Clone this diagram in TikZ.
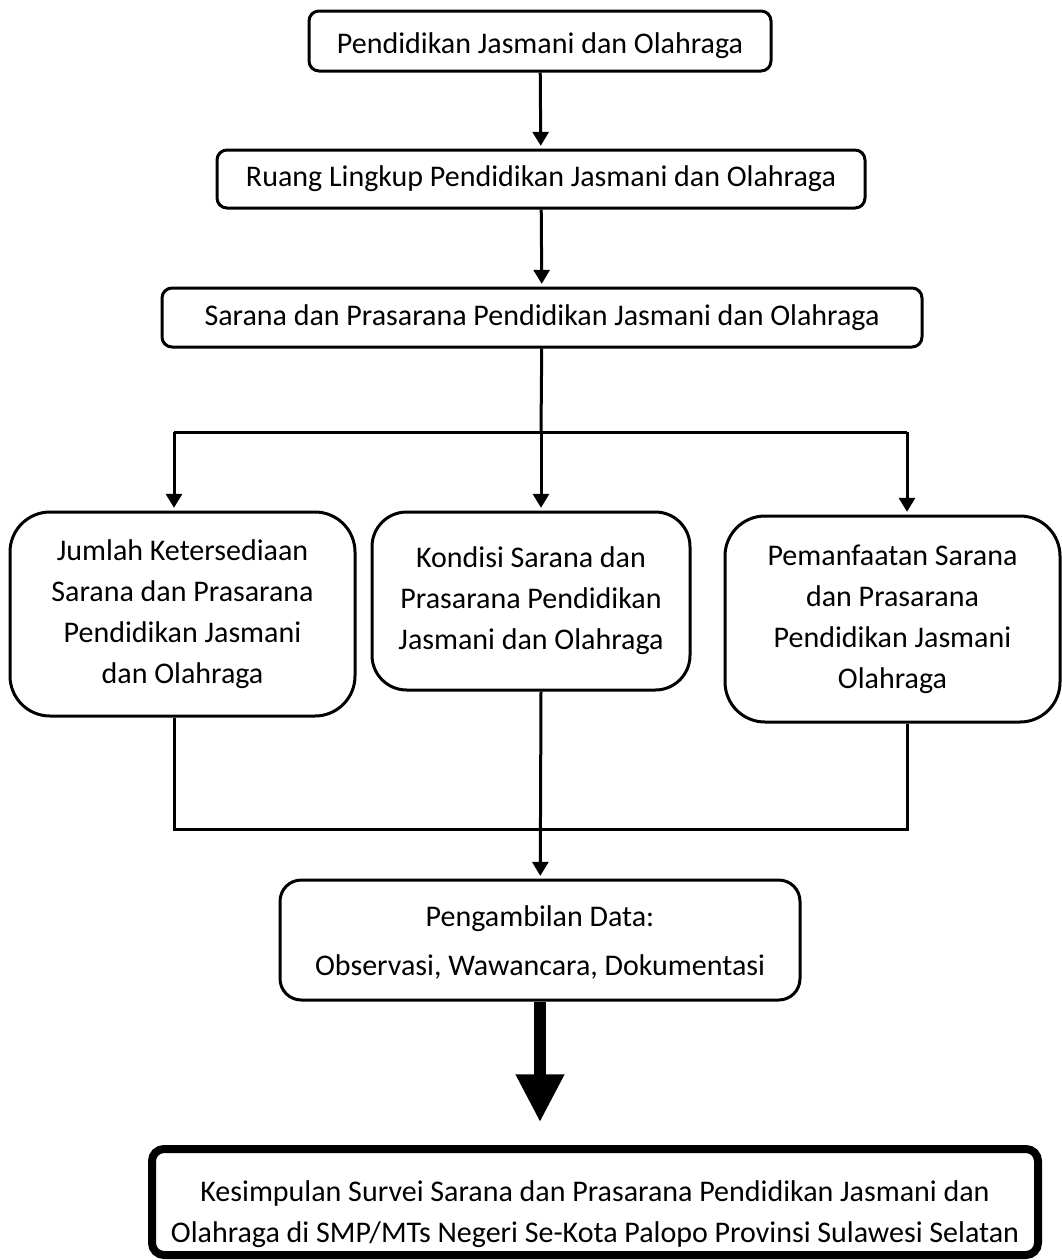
\documentclass[tikz,border=0pt]{standalone}
\usepackage{fontspec}
\setmainfont{Carlito}
\usetikzlibrary{arrows.meta}

\tikzset{every picture/.style={line width=2.25pt}}
\tikzset{
  kotak/.style={draw, rounded corners=7.5pt, align=center, inner sep=0pt,
    font=\fontsize{22.5}{30.75}\selectfont},
  panah/.style={-{Triangle[width=12pt,length=10.5pt]}, shorten >=2pt},
  panahbesar/.style={line width=9pt, -{Triangle[width=34pt,length=36pt]}, shorten >=17pt}
}

\begin{document}
\begin{tikzpicture}[x=0.75pt,y=0.75pt,yscale=-1,xscale=1]
\useasboundingbox (0,0) rectangle (1062,1260);

%Shape: Rounded Rect
\node [kotak, minimum width=346.5pt, minimum height=45pt] (pjok) at (540,41) {\rule{0pt}{22pt}Pendidikan Jasmani dan Olahraga};
%Shape: Rounded Rect
\node [kotak, minimum width=486pt, minimum height=43.5pt] (ruang) at (541,179) {Ruang Lingkup Pendidikan Jasmani dan Olahraga};
%Shape: Rounded Rect
\node [kotak, minimum width=570pt, minimum height=44.25pt] (sarpras) at (542,317.5) {Sarana dan Prasarana Pendidikan Jasmani dan Olahraga};

%Shape: Rounded Rect
\node [kotak, rounded corners=30pt, minimum width=258.75pt, minimum height=153pt] (jumlah) at (182.5,614) {Jumlah Ketersediaan\\Sarana dan Prasarana\\Pendidikan Jasmani\\dan Olahraga};
%Shape: Rounded Rect
\node [kotak, rounded corners=26pt, minimum width=238.5pt, minimum height=133.5pt] (kondisi) at (531,601) {Kondisi Sarana dan\\Prasarana Pendidikan\\Jasmani dan Olahraga};
%Shape: Rounded Rect
\node [kotak, rounded corners=30pt, minimum width=251.25pt, minimum height=154.5pt] (manfaat) at (892.5,619) {Pemanfaatan Sarana\\dan Prasarana\\Pendidikan Jasmani\\Olahraga};

%Shape: Rounded Rect
\node [kotak, rounded corners=16pt, minimum width=390pt, minimum height=90pt] (data) at (540,940) {\rule{0pt}{20pt}Pengambilan Data:\\[6pt]Observasi, Wawancara, Dokumentasi};
%Shape: Rounded Rect
\node [kotak, line width=6pt, rounded corners=9pt, minimum width=664.5pt, minimum height=79.5pt] (simpulan) at (595,1202) {\rule{0pt}{34pt}Kesimpulan Survei Sarana dan Prasarana Pendidikan Jasmani dan\\Olahraga di SMP/MTs Negeri Se-Kota Palopo Provinsi Sulawesi Selatan};

% branch points
\coordinate (cabang) at (541,432);
\coordinate (kiri) at (174,432);
\coordinate (kanan) at (907,432);
\coordinate (kiribawah) at (174,829);
\coordinate (kananbawah) at (907,829);

%Straight Lines
\draw [panah] (pjok) -- (ruang);
\draw [panah] (ruang) -- (sarpras);
\draw (sarpras) -- (cabang);
\draw (kiri) -- (kanan);
\draw [panah] (kiri) -- (kiri |- jumlah.north);
\draw [panah] (cabang) -- (cabang |- kondisi.north);
\draw [panah] (kanan) -- (kanan |- manfaat.north);

%Straight Lines
\draw (kiri |- jumlah.south) -- (kiribawah) -- (kananbawah) -- (kanan |- manfaat.south);
\draw [panah] (kondisi.south -| cabang) -- (data);
\draw [panahbesar] (data) -- (data.south |- simpulan.north);

\end{tikzpicture}
\end{document}
